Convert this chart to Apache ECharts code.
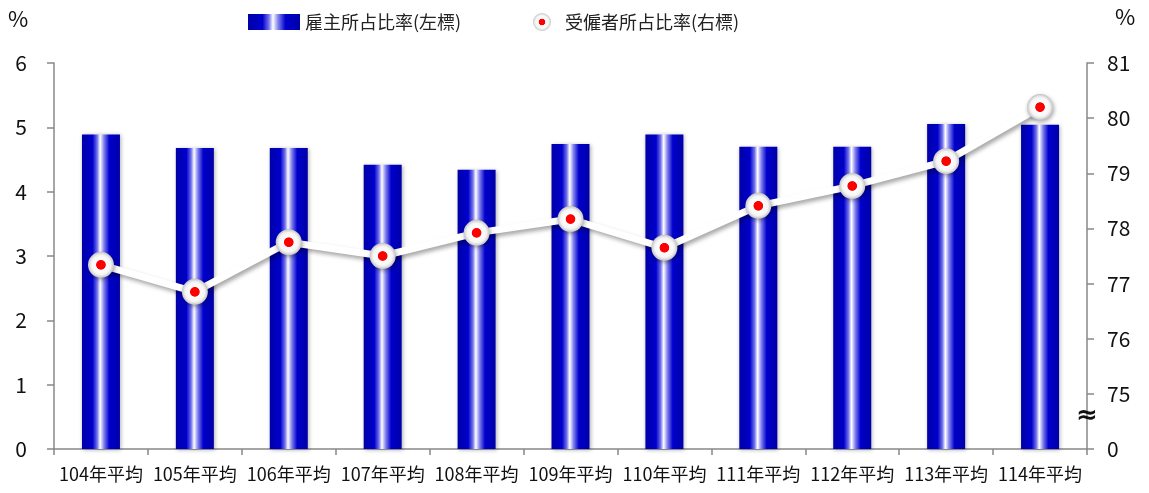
<!DOCTYPE html>
<html><head><meta charset="utf-8">
<script src="https://cdn.jsdelivr.net/npm/echarts@6/dist/echarts.min.js"></script>
<style>html,body{margin:0;padding:0;background:#fff}#c{width:1149px;height:493px}</style>
</head><body><div id="c"></div>
<script>
const categories = ['104年平均','105年平均','106年平均','107年平均','108年平均','109年平均','110年平均','111年平均','112年平均','113年平均','114年平均'];
const employerRate = [4.89, 4.68, 4.68, 4.42, 4.34, 4.74, 4.89, 4.70, 4.70, 5.05, 5.04];
const employeeRate = [77.34, 76.85, 77.75, 77.50, 77.92, 78.17, 77.65, 78.41, 78.77, 79.22, 80.20];
const leftTicks = {min: 0, max: 6, interval: 1};
const rightTicks = {min: 74, max: 81, interval: 1};
const seriesNames = ['雇主所占比率(左標)', '受僱者所占比率(右標)'];
const unitLabel = '%';

const font = '"Noto Sans CJK TC","Noto Sans",sans-serif';
const barGrad = new echarts.graphic.LinearGradient(0,0,1,0,[
  {offset:0,color:'#0000a8'},{offset:0.28,color:'#0000cc'},{offset:0.40,color:'#7070ec'},
  {offset:0.48,color:'#ffffff'},{offset:0.58,color:'#8080ee'},{offset:0.72,color:'#0000cc'},{offset:1,color:'#0000a8'}]);
const dotGrad = new echarts.graphic.RadialGradient(0.5,0.5,0.5,[
  {offset:0,color:'#ff0000'},{offset:0.34,color:'#ff0000'},{offset:0.40,color:'#ffffff'},
  {offset:0.75,color:'#f4f4f4'},{offset:1,color:'#c4c4c4'}]);

const chart = echarts.init(document.getElementById('c'));
chart.setOption({
  animation:false,
  textStyle:{fontFamily:font},
  grid:{left:54,right:62,top:63,bottom:44},
  legend:[
    {top:8, left:243, itemWidth:52, itemHeight:16,
     textStyle:{fontSize:18,color:'#222',fontFamily:font},
     data:[{name:seriesNames[0],icon:'rect'}]},
    {top:8, left:528, itemWidth:18, itemHeight:18,
     textStyle:{fontSize:18,color:'#222',fontFamily:font,padding:[0,0,0,9]},
     data:[{name:seriesNames[1],icon:'circle'}]}
  ],
  xAxis:{
    type:'category', data:categories,
    axisLine:{lineStyle:{color:'#888',width:1.5}},
    axisTick:{show:true,length:6,lineStyle:{color:'#888',width:1.5}},
    axisLabel:{color:'#111',fontSize:18,margin:16,interval:0,fontFamily:font}
  },
  yAxis:[
    {type:'value',min:leftTicks.min,max:leftTicks.max,interval:leftTicks.interval,
     axisLine:{show:true,lineStyle:{color:'#888',width:1.5}},
     axisTick:{show:true,length:7,lineStyle:{color:'#888',width:1.5}},
     splitLine:{show:false},
     axisLabel:{color:'#111',fontSize:21,margin:27,fontFamily:font}},
    {type:'value',min:rightTicks.min,max:rightTicks.max,interval:rightTicks.interval,position:'right',
     axisLine:{show:true,lineStyle:{color:'#888',width:1.5}},
     axisTick:{show:true,length:7,lineStyle:{color:'#888',width:1.5}},
     splitLine:{show:false},
     axisLabel:{color:'#111',fontSize:21,margin:20,fontFamily:font,
       formatter:v=>v===rightTicks.min?'0':String(v)}}
  ],
  series:[
    {name:seriesNames[0],type:'bar',data:employerRate,barWidth:38,yAxisIndex:0,
     itemStyle:{color:barGrad,shadowColor:'rgba(0,0,0,0.3)',shadowBlur:4,shadowOffsetX:1,shadowOffsetY:1}},
    {name:seriesNames[1],type:'line',data:employeeRate,yAxisIndex:1,z:5,
     symbol:'circle',symbolSize:26,
     lineStyle:{color:'#ffffff',width:7,shadowColor:'rgba(0,0,0,0.35)',shadowBlur:4,shadowOffsetX:2,shadowOffsetY:3},
     itemStyle:{color:dotGrad,borderWidth:0,shadowColor:'rgba(0,0,0,0.35)',shadowBlur:4,shadowOffsetX:1,shadowOffsetY:2}}
  ],
  graphic:[
    {type:'text',left:8,top:8,style:{text:unitLabel,fontSize:22,fill:'#111',fontFamily:font}},
    {type:'text',left:1115,top:6,style:{text:unitLabel,fontSize:22,fill:'#111',fontFamily:font}},
    {type:'text',left:1076,top:403,z:10,style:{text:'≈',fontSize:26,fontWeight:'bold',fill:'#111',fontFamily:'DejaVu Sans'}}
  ]
});
</script></body></html>
